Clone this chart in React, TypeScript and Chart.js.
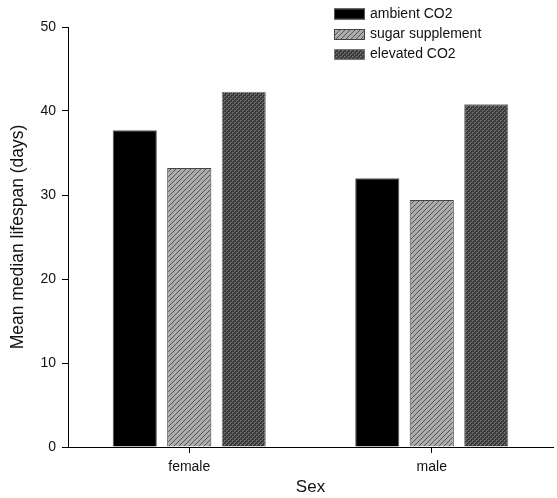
import React, { useEffect, useRef } from "react";
import { Chart, registerables } from "chart.js";

Chart.register(...registerables);

const categories = ["female", "male"];
const seriesNames = ["ambient CO2", "sugar supplement", "elevated CO2"];
const ambientCO2 = [37.7, 32.0];
const sugarSupplement = [33.2, 29.4];
const elevatedCO2 = [42.3, 40.8];
const yTicks = [0, 10, 20, 30, 40, 50];

function makeHatch(): CanvasPattern | string {
  const c = document.createElement("canvas");
  c.width = 5;
  c.height = 5;
  const g = c.getContext("2d");
  if (!g) return "#a0a0a0";
  g.fillStyle = "#acacac";
  g.fillRect(0, 0, 5, 5);
  g.strokeStyle = "#555555";
  g.lineWidth = 1;
  g.beginPath();
  for (let k = -5; k <= 10; k += 5) {
    g.moveTo(k, 5);
    g.lineTo(k + 5, 0);
  }
  g.stroke();
  return g.createPattern(c, "repeat") || "#a0a0a0";
}

function makeCross(): CanvasPattern | string {
  const c = document.createElement("canvas");
  c.width = 4;
  c.height = 4;
  const g = c.getContext("2d");
  if (!g) return "#505050";
  g.fillStyle = "#3e3e3e";
  g.fillRect(0, 0, 4, 4);
  g.fillStyle = "#6c6c6c";
  g.fillRect(0, 0, 2, 2);
  g.fillRect(2, 2, 2, 2);
  g.fillStyle = "#2a2a2a";
  g.fillRect(1, 1, 1, 1);
  g.fillRect(3, 3, 1, 1);
  return g.createPattern(c, "repeat") || "#505050";
}

const FONT = "'Liberation Sans', Arial, sans-serif";

export default function App() {
  const ref = useRef<HTMLCanvasElement | null>(null);

  useEffect(() => {
    document.body.style.margin = "0";
    if (!ref.current) return;
    const hatch = makeHatch();
    const cross = makeCross();
    const fills = ["#000000", hatch, cross];
    const borders = ["#555555", "#444444", "#777777"];
    const values = [ambientCO2, sugarSupplement, elevatedCO2];

    const legendPlugin = {
      id: "customLegend",
      afterDraw(chart: any) {
        const ctx = chart.ctx;
        ctx.save();
        ctx.font = "14px " + FONT;
        ctx.textBaseline = "middle";
        const rows = [14, 34.5, 54.5];
        seriesNames.forEach((name, i) => {
          ctx.fillStyle = fills[i];
          ctx.fillRect(334, rows[i] - 5.5, 31, 11);
          ctx.strokeStyle = borders[i];
          ctx.lineWidth = 1;
          ctx.strokeRect(334.5, rows[i] - 5, 30, 10);
          ctx.fillStyle = "#111111";
          ctx.fillText(name, 370, rows[i]);
        });
        ctx.restore();
      },
    };

    const chart = new Chart(ref.current, {
      type: "bar",
      data: {
        labels: categories,
        datasets: seriesNames.map((name, i) => ({
          label: name,
          data: values[i],
          backgroundColor: fills[i] as any,
          borderColor: borders[i],
          borderWidth: 1,
          borderSkipped: "bottom",
          categoryPercentage: 0.674,
          barPercentage: 0.81,
        })),
      },
      options: {
        animation: false,
        responsive: false,
        maintainAspectRatio: false,
        layout: { padding: { left: 0, right: 4, top: 27, bottom: 0 } },
        plugins: {
          legend: { display: false },
          tooltip: { enabled: false },
        },
        scales: {
          x: {
            grid: {
              display: true,
              drawOnChartArea: false,
              drawTicks: true,
              tickLength: 6,
              color: "#000000",
              offset: false,
            },
            border: { display: true, color: "#000000", width: 1 },
            ticks: {
              color: "#111111",
              font: { family: FONT, size: 14 },
              padding: 6,
            },
            title: {
              display: true,
              text: "Sex",
              color: "#111111",
              font: { family: FONT, size: 17 },
              padding: { top: 0, bottom: 0 },
            },
            afterFit(scale: any) {
              scale.height = 51;
            },
          },
          y: {
            min: 0,
            max: 50,
            afterBuildTicks(scale: any) {
              scale.ticks = yTicks.map((v) => ({ value: v }));
            },
            grid: {
              display: true,
              drawOnChartArea: false,
              drawTicks: true,
              tickLength: 6,
              color: "#000000",
            },
            border: { display: true, color: "#000000", width: 1 },
            ticks: {
              color: "#111111",
              font: { family: FONT, size: 14 },
              padding: 6,
            },
            title: {
              display: true,
              text: "Mean median lifespan (days)",
              color: "#111111",
              font: { family: FONT, size: 17.5 },
              padding: { top: 8, bottom: 0 },
            },
            afterFit(scale: any) {
              scale.width = 68;
            },
          },
        },
      },
      plugins: [legendPlugin],
    });
    return () => chart.destroy();
  }, []);

  return (
    <div style={{ width: 557, height: 498, background: "#ffffff" }}>
      <canvas ref={ref} width={557} height={498} style={{ display: "block" }} />
    </div>
  );
}
